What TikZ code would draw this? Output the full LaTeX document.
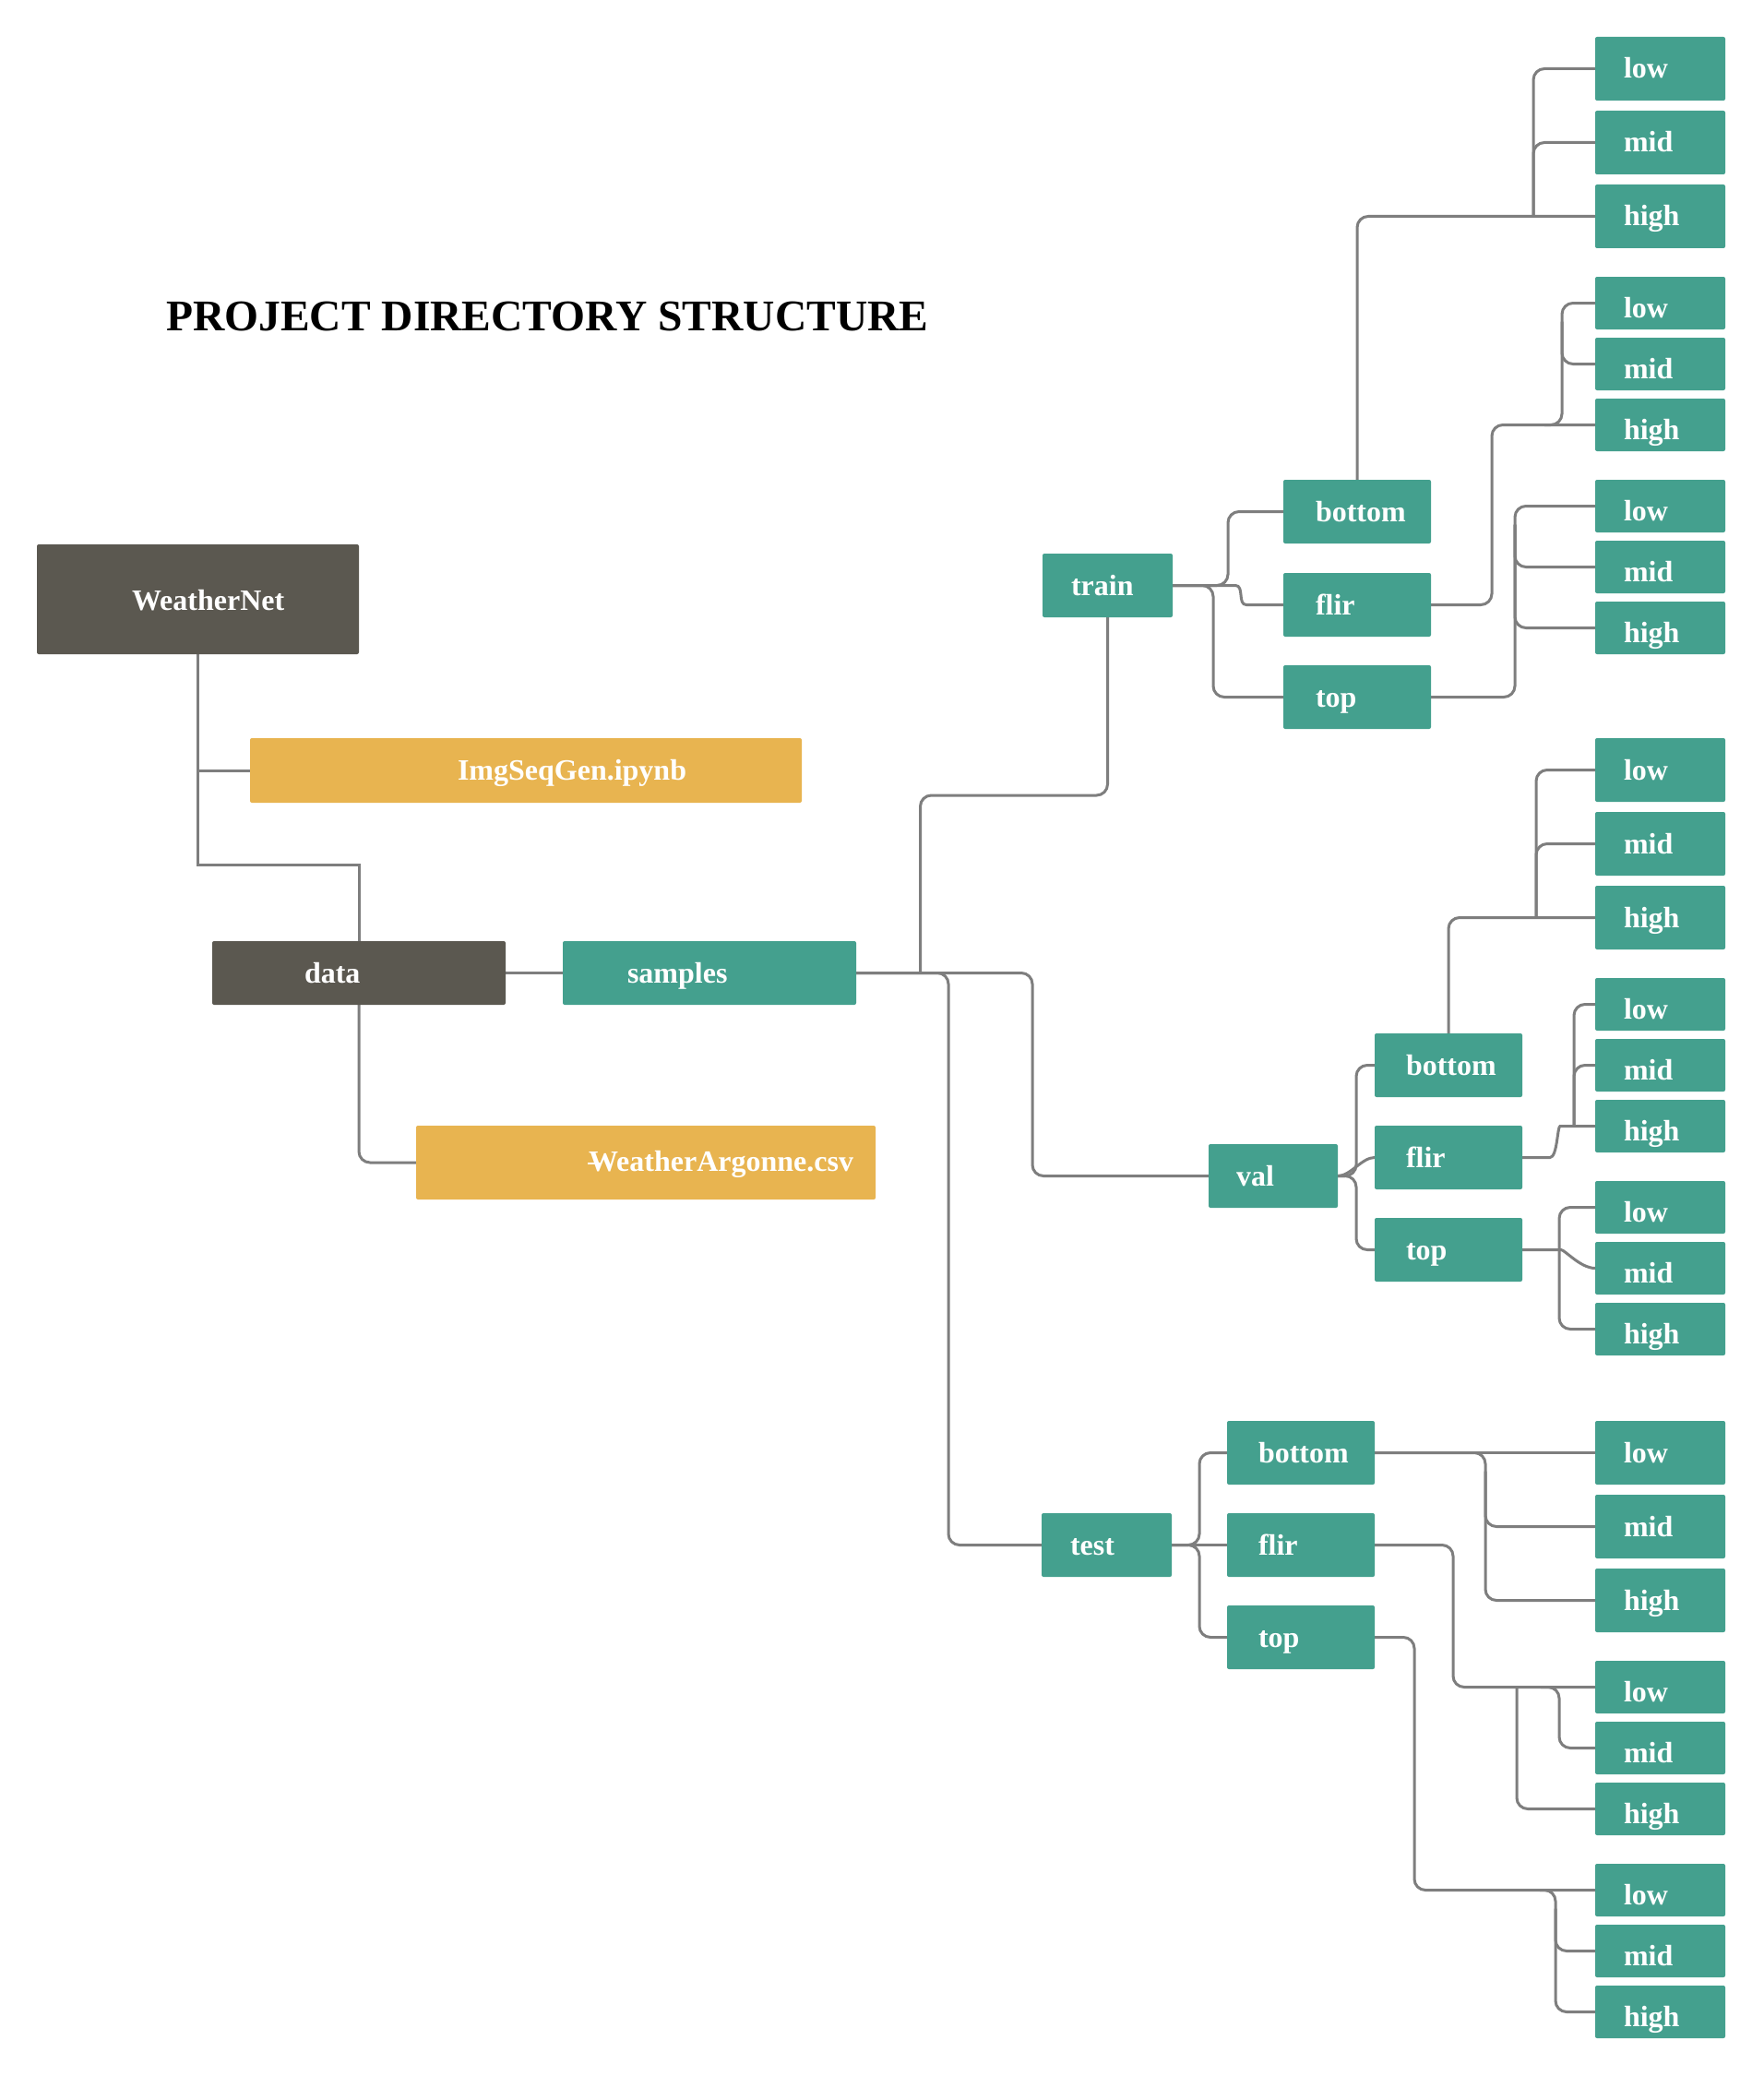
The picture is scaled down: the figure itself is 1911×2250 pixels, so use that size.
\documentclass[tikz,border=0pt]{standalone}
\usepackage{fontspec}
\setmainfont{Liberation Serif}
\usetikzlibrary{backgrounds}
\definecolor{teal0}{RGB}{68,160,142}
\definecolor{dark0}{RGB}{91,88,80}
\definecolor{orange0}{RGB}{232,180,80}
\definecolor{line0}{RGB}{126,126,126}
\newcommand\bx[3]{\makebox[#1pt][l]{\hspace*{#2pt}#3}}
\tikzset{
 bx/.style={rectangle, rounded corners=2pt, inner sep=0pt, outer sep=0pt, anchor=north west, text=white, font=\fontsize{32}{36}\selectfont\bfseries},
 tealb/.style={bx, fill=teal0},
 darkb/.style={bx, fill=dark0},
 orb/.style={bx, fill=orange0},
 hA/.style={text height=45pt, text depth=24pt},
 hB/.style={text height=44pt, text depth=13pt},
 conn/.style={draw=line0, line width=3pt, rounded corners=12pt},
 sharp/.style={draw=line0, line width=3pt},
}
\begin{document}
\begin{tikzpicture}[x=1pt,y=-1pt]
\useasboundingbox (0,0) rectangle (1911,2250);
\node[anchor=base west, inner sep=0pt, font=\fontsize{47.5}{50}\selectfont\bfseries] (title) at (180,358) {PROJECT DIRECTORY STRUCTURE};
% left part
\node[darkb, text height=71pt, text depth=48pt] (wn) at (40,590) {\bx{349}{103}{WeatherNet}};
\node[orb, text height=45pt, text depth=25pt] (ipynb) at (271,800) {\bx{598}{225}{ImgSeqGen.ipynb}};
\node[darkb, hA] (data) at (230,1020) {\bx{318}{100}{data}};
\node[tealb, hA] (samples) at (610,1020) {\bx{318}{70}{samples}};
\node[orb, text height=49pt, text depth=31pt] (csv) at (451,1220) {\bx{498}{187}{WeatherArgonne.csv}};
% train
\node[tealb, hA] (train) at (1130,600) {\bx{141}{31}{train}};
\node[tealb, hA] (trbot) at (1391,520) {\bx{160}{35}{bottom}};
\node[tealb, hA] (trflir) at (1391,621) {\bx{160}{35}{flir}};
\node[tealb, hA] (trtop) at (1391,721) {\bx{160}{35}{top}};
\node[tealb, hA] (tr1l) at (1729,40) {\bx{141}{31}{low}};
\node[tealb, hA] (tr1m) at (1729,120) {\bx{141}{31}{mid}};
\node[tealb, hA] (tr1h) at (1729,200) {\bx{141}{31}{high}};
\node[tealb, hB] (tr2l) at (1729,300) {\bx{141}{31}{low}};
\node[tealb, hB] (tr2m) at (1729,366) {\bx{141}{31}{mid}};
\node[tealb, hB] (tr2h) at (1729,432) {\bx{141}{31}{high}};
\node[tealb, hB] (tr3l) at (1729,520) {\bx{141}{31}{low}};
\node[tealb, hB] (tr3m) at (1729,586) {\bx{141}{31}{mid}};
\node[tealb, hB] (tr3h) at (1729,652) {\bx{141}{31}{high}};
% val
\node[tealb, hA] (val) at (1310,1240) {\bx{140}{30}{val}};
\node[tealb, hA] (vbot) at (1490,1120) {\bx{160}{34}{bottom}};
\node[tealb, hA] (vflir) at (1490,1220) {\bx{160}{34}{flir}};
\node[tealb, hA] (vtop) at (1490,1320) {\bx{160}{34}{top}};
\node[tealb, hA] (v1l) at (1729,800) {\bx{141}{31}{low}};
\node[tealb, hA] (v1m) at (1729,880) {\bx{141}{31}{mid}};
\node[tealb, hA] (v1h) at (1729,960) {\bx{141}{31}{high}};
\node[tealb, hB] (v2l) at (1729,1060) {\bx{141}{31}{low}};
\node[tealb, hB] (v2m) at (1729,1126) {\bx{141}{31}{mid}};
\node[tealb, hB] (v2h) at (1729,1192) {\bx{141}{31}{high}};
\node[tealb, hB] (v3l) at (1729,1280) {\bx{141}{31}{low}};
\node[tealb, hB] (v3m) at (1729,1346) {\bx{141}{31}{mid}};
\node[tealb, hB] (v3h) at (1729,1412) {\bx{141}{31}{high}};
% test
\node[tealb, hA] (test) at (1129,1640) {\bx{141}{31}{test}};
\node[tealb, hA] (tbot) at (1330,1540) {\bx{160}{34}{bottom}};
\node[tealb, hA] (tflir) at (1330,1640) {\bx{160}{34}{flir}};
\node[tealb, hA] (ttop) at (1330,1740) {\bx{160}{34}{top}};
\node[tealb, hA] (t1l) at (1729,1540) {\bx{141}{31}{low}};
\node[tealb, hA] (t1m) at (1729,1620) {\bx{141}{31}{mid}};
\node[tealb, hA] (t1h) at (1729,1700) {\bx{141}{31}{high}};
\node[tealb, hB] (t2l) at (1729,1800) {\bx{141}{31}{low}};
\node[tealb, hB] (t2m) at (1729,1866) {\bx{141}{31}{mid}};
\node[tealb, hB] (t2h) at (1729,1932) {\bx{141}{31}{high}};
\node[tealb, hB] (t3l) at (1729,2020) {\bx{141}{31}{low}};
\node[tealb, hB] (t3m) at (1729,2086) {\bx{141}{31}{mid}};
\node[tealb, hB] (t3h) at (1729,2152) {\bx{141}{31}{high}};
% small white stroke through the W
\draw[white, line width=2pt] ([xshift=186pt,yshift=-1pt]csv.west) -- ++(15,0);
\begin{scope}[on background layer]
\fill[white] (0,0) rectangle (1911,2250);
% left
\draw[sharp] (wn.south) |- ([yshift=83pt]data.north) -- (data.north);
\draw[sharp] (wn.south) |- (ipynb.west);
\draw[sharp] (data.east) -- (samples.west);
\draw[conn] (data.south) |- (csv.west);
% samples
\draw[conn] ([xshift=69.5pt]samples.east) |- ([yshift=-193pt]train.south) -- (train.south);
\draw[conn] (samples.east) -| ([xshift=-101pt]test.west) -- (test.west);
\draw[conn] (samples.east) -| ([xshift=-191pt]val.west) -- (val.west);
% train
\draw[conn] (train.east) -| ([xshift=-60pt]trbot.west) -- (trbot.west);
\draw[conn] (train.east) -| ([xshift=-76pt]trtop.west) -- (trtop.west);
\draw[conn] (train.east) -- ++(56,0) .. controls +(22,0) and +(-22,0) .. ([xshift=-28pt]trflir.west) -- (trflir.west);
\draw[conn] (trbot.north) |- (tr1h.west);
\draw[conn] ([xshift=-67pt]tr1h.west) |- (tr1l.west);
\draw[conn] ([xshift=-67pt]tr1h.west) |- (tr1m.west);
\draw[conn] (trflir.east) -| ([xshift=-112pt]tr2h.west) -- (tr2h.west);
\draw[conn] ([xshift=-55pt]tr2h.west) -| ([xshift=-36pt]tr2l.west) -- (tr2l.west);
\draw[conn] ([xshift=-36pt,yshift=-20pt]tr2l.west) |- (tr2m.west);
\draw[conn] (trtop.east) -| ([xshift=-87pt]tr3l.west) -- (tr3l.west);
\draw[conn] ([xshift=-87pt,yshift=-20pt]tr3l.west) |- (tr3m.west);
\draw[conn] ([xshift=-87pt,yshift=-20pt]tr3l.west) |- (tr3h.west);
% val
\draw[conn] (val.east) -| ([xshift=-20pt]vbot.west) -- (vbot.west);
\draw[conn] (val.east) -| ([xshift=-20pt]vtop.west) -- (vtop.west);
\draw[conn] (val.east) .. controls +(14,0) and +(-14,0) .. (vflir.west);
\draw[conn] (vbot.north) |- (v1h.west);
\draw[conn] ([xshift=-64pt]v1h.west) |- (v1l.west);
\draw[conn] ([xshift=-64pt]v1h.west) |- (v1m.west);
\draw[conn] (vflir.east) -- ++(18,0) .. controls +(20,0) and +(-15,0) .. ([xshift=-26pt]v2h.west) -- (v2h.west);
\draw[conn] ([xshift=-23pt]v2h.west) |- (v2l.west);
\draw[conn] ([xshift=-23pt]v2h.west) |- (v2m.west);
\draw[conn] (vtop.east) -- ++(30,0) .. controls +(16,0) and +(-16,0) .. (v3m.west);
\draw[conn] (v3l.west) -| ([xshift=-39pt]v3h.west) -- (v3h.west);
% test
\draw[conn] (test.east) -| ([xshift=-30pt]tbot.west) -- (tbot.west);
\draw[conn] (test.east) -| ([xshift=-30pt]ttop.west) -- (ttop.west);
\draw[conn] (test.east) -- (tflir.west);
\draw[conn] (tbot.east) -- (t1l.west);
\draw[conn] (tbot.east) -| ([xshift=-119pt]t1h.west) -- (t1h.west);
\draw[conn] ([xshift=-119pt,yshift=-20pt]t1l.west) |- (t1m.west);
\draw[conn] (tflir.east) -| ([xshift=-154pt]t2l.west) -- (t2l.west);
\draw[conn] ([xshift=-85pt]t2l.west) |- (t2h.west);
\draw[conn] ([xshift=-59pt]t2l.west) -| ([xshift=-39pt]t2m.west) -- (t2m.west);
\draw[conn] (ttop.east) -| ([xshift=-196pt]t3l.west) -- (t3l.west);
\draw[conn] ([xshift=-60pt]t3l.west) -| ([xshift=-43pt]t3h.west) -- (t3h.west);
\draw[conn] ([xshift=-43pt,yshift=-20pt]t3l.west) |- (t3m.west);
\end{scope}
\end{tikzpicture}
\end{document}
